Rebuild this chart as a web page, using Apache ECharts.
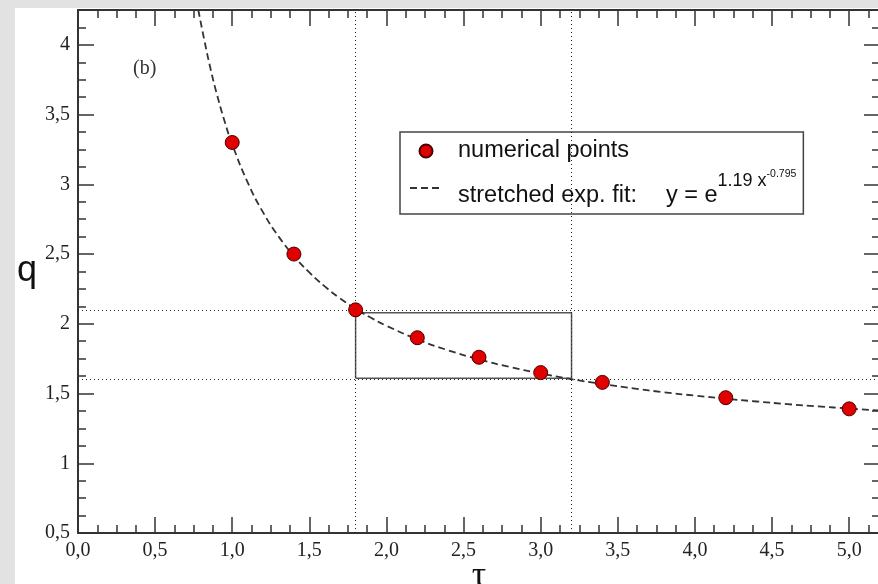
<!DOCTYPE html>
<html>
<head>
<meta charset="utf-8">
<title>q vs tau</title>
<script src="https://cdn.jsdelivr.net/npm/echarts@6/dist/echarts.min.js"></script>
<style>
  html, body { margin: 0; padding: 0; background: #e2e2e2; }
  #chart { width: 878px; height: 584px; }
</style>
</head>
<body>
<div id="chart"></div>
<script>
// numerical points
const tauValues = [1.0, 1.4, 1.8, 2.2, 2.6, 3.0, 3.4, 4.2, 5.0]
const qValues = [3.30, 2.50, 2.10, 1.90, 1.76, 1.65, 1.58, 1.47, 1.39]

// dashed fit curve
const fitX = [0.78, 0.82, 0.86, 0.9, 0.95, 1.0, 1.1, 1.2, 1.3, 1.4, 1.5, 1.6, 1.7, 1.8, 1.9, 2.0, 2.2, 2.4, 2.6, 2.8,
  3.0, 3.2, 3.4, 3.6, 3.8, 4.0, 4.2, 4.4, 4.6, 4.8, 5.0, 5.2]
const fitY = [4.25, 4.029, 3.825, 3.648, 3.454, 3.287, 3.014, 2.799, 2.627, 2.486, 2.368, 2.268, 2.182, 2.108, 2.043, 1.986,
  1.889, 1.810, 1.745, 1.690, 1.644, 1.603, 1.568, 1.537, 1.509, 1.485, 1.463, 1.443, 1.424, 1.408, 1.392, 1.378]

// dotted guide lines and the zoom box
const guideX = [1.8, 3.2]
const guideY = [2.1, 1.6]
const boxX = [1.8, 3.2, 3.2, 1.8, 1.8]
const boxY = [1.61, 1.61, 2.08, 2.08, 1.61]

// tick labels
const xTickLabels = ['0,0', '0,5', '1,0', '1,5', '2,0', '2,5', '3,0', '3,5', '4,0', '4,5', '5,0']
const yTickLabels = ['0,5', '1', '1,5', '2', '2,5', '3', '3,5', '4']

const SERIF = "'Liberation Serif', 'DejaVu Serif', serif"
const SANS = "'Liberation Sans', Arial, sans-serif"
const INK = '#333'

function labelFrom(list, start) {
  return (v) => {
    const i = Math.round((v - start) / 0.5)
    if (Math.abs(v - start - i * 0.5) > 1e-6) return ''
    return list[i] ?? ''
  }
}

// one axis per tick size and side, so major/minor ticks line up like the original
function makeAxis(kind, position, step, tickLen, withLine, formatter) {
  const range = kind === 'x' ? { min: 0, max: 5.2 } : { min: 0.5, max: 4.25 }
  return {
    type: 'value',
    position,
    ...range,
    interval: step,
    axisLine: { show: withLine, onZero: false, lineStyle: { color: INK, width: 2 } },
    axisTick: { show: true, inside: true, length: tickLen, lineStyle: { color: INK, width: 1.5 } },
    axisLabel: formatter
      ? { show: true, formatter, fontFamily: SERIF, fontSize: 20, color: '#222', margin: 8 }
      : { show: false },
    splitLine: { show: false },
  }
}

const xMain = makeAxis('x', 'bottom', 0.5, 16, true, labelFrom(xTickLabels, 0))
xMain.name = 'τ'
xMain.nameLocation = 'middle'
xMain.nameGap = 26
xMain.nameMoveOverlap = false
xMain.nameTextStyle = { fontFamily: SERIF, fontSize: 36, color: '#111' }

const yMain = makeAxis('y', 'left', 0.5, 16, true, labelFrom(yTickLabels, 0.5))
yMain.name = 'q'
yMain.nameLocation = 'middle'
yMain.nameRotate = 0
yMain.nameGap = 41
yMain.nameMoveOverlap = false
yMain.nameTextStyle = { fontFamily: SANS, fontSize: 36, color: '#111' }

const chart = echarts.init(document.getElementById('chart'), null, { renderer: 'canvas' })

chart.setOption({
  animation: false,
  backgroundColor: '#e2e2e2',
  grid: {
    left: 78, top: 10, right: -2, bottom: 51,
    containLabel: false,
    outerBoundsMode: 'none',
  },
  graphic: [
    {
      type: 'rect', left: 15, top: 8, z: -10,
      shape: { width: 863, height: 576 },
      style: { fill: '#fff' },
    },
    {
      type: 'text', left: 133, top: 59,
      style: { text: '(b)', font: `20px ${SERIF}`, fill: '#333' },
    },
  ],
  xAxis: [
    xMain,
    makeAxis('x', 'bottom', 0.125, 8, false),
    makeAxis('x', 'top', 0.5, 16, true),
    makeAxis('x', 'top', 0.125, 8, false),
  ],
  yAxis: [
    yMain,
    makeAxis('y', 'left', 0.125, 8, false),
    makeAxis('y', 'right', 0.5, 16, true),
    makeAxis('y', 'right', 0.125, 8, false),
  ],
  legend: {
    data: [
      { name: 'numerical points' },
      // hide the marker the line legend adds, keep just the dashes
      { name: 'stretched exp. fit:', itemStyle: { color: 'rgba(0,0,0,0)', borderWidth: 0, opacity: 0 } },
    ],
    orient: 'vertical',
    left: 400,
    top: 132,
    padding: [7, 7, 6, 9],
    itemGap: 5,
    itemWidth: 32,
    itemHeight: 13,
    borderColor: '#444',
    borderWidth: 1.5,
    backgroundColor: '#fff',
    selectedMode: false,
    formatter: (name) => name === 'numerical points'
      ? '{t1|' + name + '}'
      : '{t2|' + name + '}{gap| }{m|y = e}{s1|1.19 x}{s2|-0.795}',
    textStyle: {
      fontFamily: SANS,
      fontSize: 23.5,
      color: '#111',
      rich: {
        t1: { fontFamily: SANS, fontSize: 23.5, color: '#111', lineHeight: 26, padding: [0, 0, 0, 11] },
        t2: { fontFamily: SANS, fontSize: 23.5, color: '#111', lineHeight: 24, padding: [0, 0, 0, 11], verticalAlign: 'bottom' },
        gap: { width: 29, lineHeight: 40, fontSize: 10 },
        m: { fontFamily: SANS, fontSize: 23.5, color: '#111', lineHeight: 24, verticalAlign: 'bottom' },
        s1: { fontFamily: SANS, fontSize: 18, color: '#111', lineHeight: 18, padding: [4, 0, 0, 0], verticalAlign: 'top' },
        s2: { fontFamily: SANS, fontSize: 10.5, color: '#111', lineHeight: 10, padding: [1, 0, 0, 0], verticalAlign: 'top' },
      },
    },
  },
  series: [
    {
      name: 'zoom box',
      type: 'line',
      data: boxX.map((x, i) => [x, boxY[i]]),
      symbol: 'none',
      lineStyle: { color: '#555', width: 1.5 },
      silent: true,
      z: 3,
    },
    {
      name: 'stretched exp. fit:',
      type: 'line',
      data: fitX.map((x, i) => [x, fitY[i]]),
      smooth: true,
      symbol: 'none',
      color: '#333',
      lineStyle: { color: '#333', width: 1.8, type: [7, 4] },
      markLine: {
        silent: true,
        symbol: ['none', 'none'],
        label: { show: false },
        lineStyle: { color: '#222', width: 1, type: [1, 3] },
        data: [
          ...guideX.map((v) => ({ xAxis: v })),
          ...guideY.map((v) => ({ yAxis: v })),
        ],
      },
      z: 4,
    },
    {
      name: 'numerical points',
      type: 'scatter',
      data: tauValues.map((t, i) => [t, qValues[i]]),
      symbol: 'circle',
      symbolSize: 14,
      itemStyle: { color: '#e00000', borderColor: '#4a0000', borderWidth: 1, opacity: 1 },
      z: 5,
    },
  ],
})
</script>
</body>
</html>
